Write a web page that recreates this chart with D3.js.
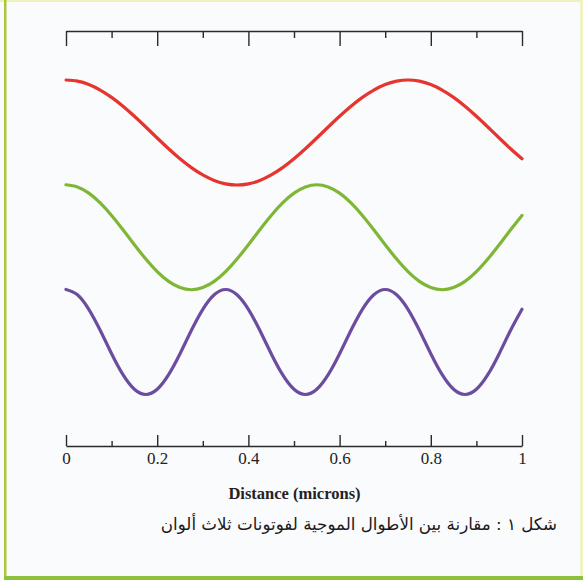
<!DOCTYPE html>
<html><head><meta charset="utf-8">
<script src="https://cdn.jsdelivr.net/npm/d3@7"></script>
<style>html,body{margin:0;padding:0;background:#fafbfd;}svg{display:block;}</style>
</head><body>
<script>
// Distance samples (microns)
const distance = d3.range(0, 41).map(i => i * 0.025);
// Displacements (relative amplitude)
const redWave = [1.000,0.978,0.914,0.809,0.669,0.500,0.309,0.105,-0.105,-0.309,-0.500,-0.669,-0.809,-0.914,-0.978,-1.000,-0.978,-0.914,-0.809,-0.669,-0.500,-0.309,-0.105,0.105,0.309,0.500,0.669,0.809,0.914,0.978,1.000,0.978,0.914,0.809,0.669,0.500,0.309,0.105,-0.105,-0.309,-0.500];
const greenWave = [1.000,0.959,0.841,0.655,0.415,0.142,-0.142,-0.415,-0.655,-0.841,-0.959,-1.000,-0.959,-0.841,-0.655,-0.415,-0.142,0.142,0.415,0.655,0.841,0.959,1.000,0.959,0.841,0.655,0.415,0.142,-0.142,-0.415,-0.655,-0.841,-0.959,-1.000,-0.959,-0.841,-0.655,-0.415,-0.142,0.142,0.415];
const purpleWave = [1.000,0.901,0.623,0.223,-0.223,-0.623,-0.901,-1.000,-0.901,-0.623,-0.223,0.223,0.623,0.901,1.000,0.901,0.623,0.223,-0.223,-0.623,-0.901,-1.000,-0.901,-0.623,-0.223,0.223,0.623,0.901,1.000,0.901,0.623,0.223,-0.223,-0.623,-0.901,-1.000,-0.901,-0.623,-0.223,0.223,0.623];
const seriesNames = ["red", "green", "purple"];
const seriesColors = ["#e6342e", "#7fb636", "#6c4c9f"];
const majorTicks = [0, 0.2, 0.4, 0.6, 0.8, 1];
const minorTicks = [0.1, 0.3, 0.5, 0.7, 0.9];
const tickLabels = ["0", "0.2", "0.4", "0.6", "0.8", "1"];
const axisTitle = "Distance (microns)";
const caption = "شكل ١ : مقارنة بين الأطوال الموجية لفوتونات ثلاث ألوان";

const W = 583, H = 580;
const svg = d3.select("body").append("svg").attr("width", W).attr("height", H);
svg.append("rect").attr("width", W).attr("height", H).attr("fill", "#fafbfd");

// frame
svg.append("rect").attr("x", 0).attr("y", 0).attr("width", W).attr("height", 2).attr("fill", "#eef2b8");
svg.append("rect").attr("x", W - 3).attr("y", 0).attr("width", 3).attr("height", H).attr("fill", "#f1f3c4");
svg.append("rect").attr("x", 4).attr("y", 0).attr("width", 2.5).attr("height", H).attr("fill", "#a9c63c");
svg.append("rect").attr("x", 4).attr("y", 576).attr("width", W - 4).attr("height", 4).attr("fill", "#8dc03c");

const x = d3.scaleLinear().domain([0, 1]).range([66, 522]);
const rowY = d3.scalePoint().domain(seriesNames).range([132.5, 342]);
const amp = d3.scaleLinear().domain([-1, 1]).range([52.5, -52.5]);

const axisColor = "#2a2a2a";
// top axis
svg.append("g").attr("transform", "translate(0,31)")
  .call(d3.axisBottom(x).tickValues(majorTicks).tickSize(15).tickSizeOuter(0).tickFormat(""));
svg.append("g").attr("transform", "translate(0,31)")
  .call(d3.axisBottom(x).tickValues(minorTicks).tickSize(7).tickFormat(""))
  .call(g => g.select(".domain").remove());
// bottom axis
const botAxis = svg.append("g").attr("transform", "translate(0,446)")
  .call(d3.axisBottom(x).tickValues(majorTicks).tickSizeInner(-11).tickSizeOuter(0).tickPadding(6)
    .tickFormat((d, i) => tickLabels[i]));
svg.append("g").attr("transform", "translate(0,446)")
  .call(d3.axisBottom(x).tickValues(minorTicks).tickSizeInner(-5).tickSizeOuter(0).tickFormat(""))
  .call(g => g.select(".domain").remove());
svg.selectAll(".domain, .tick line").attr("stroke", axisColor).attr("stroke-width", 1.4);
botAxis.selectAll(".tick text").attr("font-family", "'Liberation Serif', serif").attr("font-size", 17).attr("fill", "#222");

svg.append("text").attr("x", 294.5).attr("y", 499).attr("text-anchor", "middle")
  .attr("font-family", "'Liberation Serif', serif").attr("font-weight", "bold").attr("font-size", 16.5)
  .attr("fill", "#222").text(axisTitle);

// waves
const waves = [redWave, greenWave, purpleWave];
const line = d3.line().x((d, i) => x(distance[i])).y(d => amp(d)).curve(d3.curveNatural);
seriesNames.forEach((name, k) => {
  svg.append("g").attr("transform", `translate(0,${rowY(name)})`)
    .append("path").datum(waves[k])
    .attr("d", line).attr("fill", "none").attr("stroke", seriesColors[k])
    .attr("stroke-width", 3.2).attr("stroke-linecap", "round");
});

// caption
svg.append("text").attr("x", 557).attr("y", 530).attr("direction", "rtl").attr("text-anchor", "start")
  .attr("font-family", "'DejaVu Sans', sans-serif").attr("font-size", 16.7).attr("fill", "#1a1a1a")
  .text(caption);
</script>
</body></html>
